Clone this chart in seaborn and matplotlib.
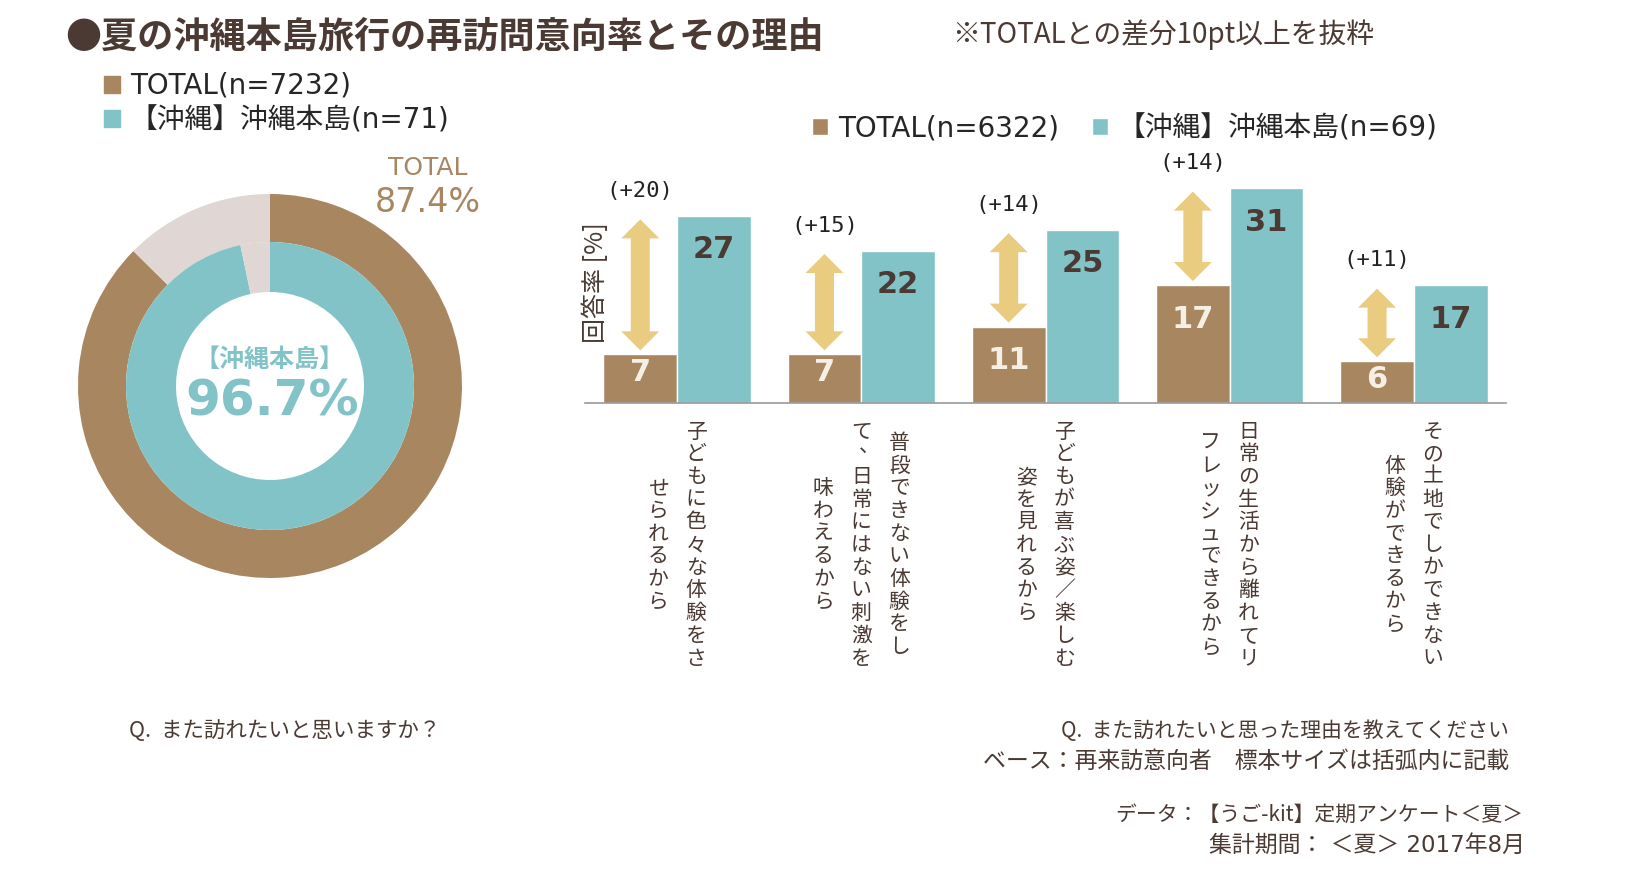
import matplotlib
matplotlib.use('Agg')
import matplotlib.pyplot as plt
import seaborn as sns
import pandas as pd
from matplotlib.patches import Patch, Polygon

# --- data ---
donut_legend = ['TOTAL(n=7232)', '【沖縄】沖縄本島(n=71)']
total_ring = [87.4, 12.6]
okinawa_ring = [96.7, 3.3]

reasons = [
    ['子どもに色々な体験をさ', 'せられるから'],
    ['普段できない体験をし', 'て、日常にはない刺激を', '味わえるから'],
    ['子どもが喜ぶ姿／楽しむ', '姿を見れるから'],
    ['日常の生活から離れてリ', 'フレッシュできるから'],
    ['その土地でしかできない', '体験ができるから'],
]
series_names = ['TOTAL(n=6322)', '【沖縄】沖縄本島(n=69)']
total_vals = [7, 7, 11, 17, 6]
okinawa_vals = [27, 22, 25, 31, 17]

BROWN = '#a88760'
TEAL = '#82c3c7'
LIGHT = '#e0d6d3'
GOLD = '#e9cc7f'
DARK = '#4b3a33'
JP = ['Noto Sans CJK JP', 'DejaVu Sans']
LAT = ['DejaVu Sans', 'Noto Sans CJK JP']

sns.set_style('white')
plt.rcParams['font.family'] = LAT

W, H = 1649, 876
fig = plt.figure(figsize=(W / 100, H / 100), dpi=100)


def fx(x):
    return x / W


def fy(y):
    return 1 - y / H


# --- titles ---
fig.text(fx(65), fy(37), '●夏の沖縄本島旅行の再訪問意向率とその理由', family=JP,
         fontsize=26, fontweight='bold', color=DARK, va='center', ha='left')
fig.text(fx(952), fy(35), '※TOTALとの差分10pt以上を抜粋', family=JP,
         fontsize=20, color=DARK, va='center', ha='left')

# --- donut ---
ax_d = fig.add_axes([fx(70), fy(586), 400 / W, 400 / H])
ax_d.pie(total_ring, radius=0.96, colors=[BROWN, LIGHT], startangle=90,
         counterclock=False, wedgeprops=dict(width=0.24, linewidth=0))
ax_d.pie(okinawa_ring, radius=0.72, colors=[TEAL, LIGHT], startangle=90,
         counterclock=False, wedgeprops=dict(width=0.25, linewidth=0))
ax_d.set_xlim(-1, 1)
ax_d.set_ylim(-1, 1)
ax_d.set_aspect('equal')
ax_d.axis('off')

fig.text(fx(270), fy(360), '【沖縄本島】', family=JP, fontsize=18,
         fontweight='bold', color=TEAL, ha='center', va='center')
fig.text(fx(272), fy(401), f'{okinawa_ring[0]}%', fontsize=36,
         fontweight='bold', color=TEAL, ha='center', va='center')
fig.text(fx(428), fy(168), 'TOTAL', fontsize=18, color=BROWN,
         ha='center', va='center')
fig.text(fx(428), fy(203), f'{total_ring[0]}%', fontsize=24, color=BROWN,
         ha='center', va='center')

fig.legend([Patch(color=BROWN), Patch(color=TEAL)], donut_legend,
           loc='center left', bbox_to_anchor=(fx(104), fy(103)),
           frameon=False, prop=dict(family=LAT, size=20),
           handlelength=0.58, handleheight=0.58, handletextpad=0.35,
           borderpad=0, borderaxespad=0, labelspacing=0.22)

# --- bars ---
cats = [''.join(r) for r in reasons]
df = pd.DataFrame({
    'reason': cats * 2,
    'value': total_vals + okinawa_vals,
    'series': [series_names[0]] * 5 + [series_names[1]] * 5,
})

px_per_unit = 6.93
ymax = 32
ax = fig.add_axes([fx(585), fy(403), 921 / W, ymax * px_per_unit / H])
sns.barplot(data=df, x='reason', y='value', hue='series', order=cats,
            hue_order=series_names, palette=[BROWN, TEAL], saturation=1,
            width=0.8, gap=0, errorbar=None, ax=ax)
ax.set_xlim(-0.5, len(cats) - 0.5)
ax.set_ylim(0, ymax)
ax.set_xticks([])
ax.set_yticks([])
ax.set_xlabel('')
ax.set_ylabel('')
sns.despine(ax=ax, left=True)
ax.spines['bottom'].set_color('#9a9a9a')
ax.spines['bottom'].set_linewidth(1.2)

handles, labels = ax.get_legend_handles_labels()
ax.get_legend().remove()
fig.legend(handles, labels, loc='center left', ncol=2,
           bbox_to_anchor=(fx(812), fy(128)), frameon=False,
           prop=dict(family=LAT, size=20), handlelength=0.58,
           handleheight=0.58, handletextpad=0.35, columnspacing=1.2,
           borderpad=0, borderaxespad=0)

# pixel -> data sizes
inv = ax.transData.inverted()
p0 = inv.transform((0, 0))
p1 = inv.transform((1, 1))
dx, dy = p1 - p0


def double_arrow(c, y0, y1, hw=38, bw=19, hl=19):
    h, b, l = hw / 2 * dx, bw / 2 * dx, hl * dy
    pts = [(c, y1), (c + h, y1 - l), (c + b, y1 - l), (c + b, y0 + l),
           (c + h, y0 + l), (c, y0), (c - h, y0 + l), (c - b, y0 + l),
           (c - b, y1 - l), (c - h, y1 - l)]
    ax.add_patch(Polygon(pts, closed=True, facecolor=GOLD, edgecolor='none',
                         clip_on=False, zorder=3))


for i, (t, o) in enumerate(zip(total_vals, okinawa_vals)):
    xb, xt = i - 0.2, i + 0.2
    double_arrow(xb, t + 0.6, o - 0.5)
    ax.text(xb, o + 3.6, f'(+{o - t})', family='DejaVu Sans Mono',
            fontsize=16, color='#222222', ha='center', va='center',
            clip_on=False)
    ax.text(xt, o - 4.9, str(o), fontsize=22, fontweight='bold',
            color=DARK, ha='center', va='center')
    ty = t - 4.9 if t > 10 else t - 2.6
    ax.text(xb, ty, str(t), fontsize=22, fontweight='bold',
            color='#f5efe6', ha='center', va='center')

fig.text(fx(596), fy(283), '回答率 [%]', family=JP, fontsize=18,
         color=DARK, rotation=90, ha='center', va='center')

# vertical category labels
col_gap = 38
char_step = 22.7
y_mid = 545
for i, lines in enumerate(reasons):
    cx, _ = ax.transData.transform((i, 0))
    n = len(lines)
    for k, line in enumerate(lines):
        x_px = cx + ((n - 1) / 2 - k) * col_gap
        m = len(line)
        for j, ch in enumerate(line):
            y_px = y_mid + (j - (m - 1) / 2) * char_step
            ox, oy = (8, -8) if ch in '、。' else (0, 0)
            fig.text((x_px + ox) / W, fy(y_px + oy), ch, family=JP,
                     fontsize=15, color=DARK, ha='center', va='center')

# --- footnotes ---
fig.text(fx(129), fy(731), 'Q.  また訪れたいと思いますか？', family=JP,
         fontsize=15.5, color=DARK, ha='left', va='center')
fig.text(fx(1509), fy(731), 'Q.  また訪れたいと思った理由を教えてください',
         family=JP, fontsize=15, color=DARK, ha='right', va='center')
fig.text(fx(1509), fy(761), 'ベース：再来訪意向者　標本サイズは括弧内に記載',
         family=JP, fontsize=16.5, color=DARK, ha='right', va='center')
fig.text(fx(1523), fy(815), 'データ：【うご-kit】定期アンケート＜夏＞',
         family=JP, fontsize=15, color=DARK, ha='right', va='center')
fig.text(fx(1525), fy(845), '集計期間： ＜夏＞ 2017年8月',
         family=LAT, fontsize=16.5, color=DARK, ha='right', va='center')

fig.savefig('out.png', dpi=100)
